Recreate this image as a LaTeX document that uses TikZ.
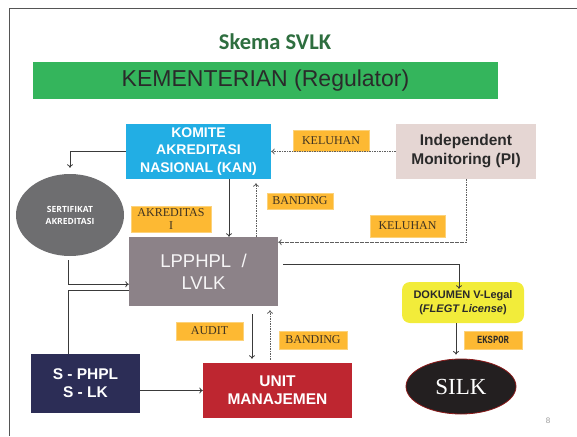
\documentclass[tikz,border=0pt]{standalone}
\usepackage{fontspec}
\setmainfont{Liberation Sans}
\newfontfamily\carl{Carlito}
\newfontfamily\tms{Liberation Serif}
\newfontfamily\osans{Open Sans}
\newfontfamily\cour{Liberation Mono}
\usetikzlibrary{arrows.meta,shapes.geometric,calc}
\definecolor{titlegreen}{HTML}{2E6E3F}
\definecolor{bargreen}{HTML}{34B55C}
\definecolor{kanblue}{HTML}{22AEE4}
\definecolor{impink}{HTML}{E5D6D3}
\definecolor{sertgrey}{HTML}{6E6E70}
\definecolor{lpgrey}{HTML}{8C8288}
\definecolor{dokyellow}{HTML}{F2EC3A}
\definecolor{spnavy}{HTML}{2C2D56}
\definecolor{unitred}{HTML}{BE2630}
\definecolor{silkblack}{HTML}{231F20}
\definecolor{silkred}{HTML}{8B1A1A}
\definecolor{labor}{HTML}{FDB933}
\definecolor{labbd}{HTML}{FCD27A}
\definecolor{labtx}{HTML}{3F3322}
\definecolor{conc}{HTML}{3A3A3A}
\definecolor{dashc}{HTML}{5E5E5E}
\definecolor{framec}{HTML}{555555}
\definecolor{darktext}{HTML}{2A2A2A}
\begin{document}
\begin{tikzpicture}[x=1pt,y=-1pt,
  box/.style={inner sep=0pt, align=center, draw=none},
  lab/.style={fill=labor, draw=labbd, line width=0.6pt, inner sep=0pt, align=center,
    text=labtx, font=\tms\fontsize{12}{12.3}\selectfont},
  conn/.style={draw=conc, line width=0.8pt, -{To[length=3.5pt,width=6pt]}},
  plainconn/.style={draw=conc, line width=0.8pt},
  dashconn/.style={draw=dashc, line width=0.8pt, dash pattern=on 1.6pt off 0.9pt, -{To[length=3.5pt,width=6pt]}}
]
\useasboundingbox (0,0) rectangle (577,436);
% frame
\coordinate (ftr) at (577,8);
\coordinate (ftl) at (9,8);
\coordinate (fbl) at (9,436);
\draw[framec, line width=0.8pt] (ftr) -- (ftl) -- (fbl);

% title and bar
\node[box, text=titlegreen, font=\carl\bfseries\fontsize{22.5}{24}\selectfont] (title) at (275,42) {Skema SVLK};
\node[box, fill=bargreen, minimum width=465pt, minimum height=37pt, text=darktext,
  font=\fontsize{23}{25}\selectfont] (kem) at (265.5,80.5) {KEMENTERIAN (Regulator)};

% main nodes
\node[box, fill=kanblue, minimum width=145pt, minimum height=55pt, text=white,
  font=\bfseries\fontsize{14}{17.5}\selectfont] (kan) at (198.5,151.5) {KOMITE\\AKREDITASI\\NASIONAL (KAN)};
\node[box, fill=impink, minimum width=140pt, minimum height=55pt, text=darktext,
  font=\bfseries\fontsize{15.5}{19}\selectfont] (im) at (466,151.5) {Independent\\Monitoring (PI)};
\node[box, ellipse, fill=sertgrey, minimum width=108pt, minimum height=82pt, text=white,
  font=\osans\bfseries\fontsize{8.5}{12}\selectfont] (sert) at (70,215) {SERTIFIKAT\\AKREDITASI};
\node[box, fill=lpgrey, minimum width=149pt, minimum height=69pt, text=white!92!lpgrey,
  font=\fontsize{18.5}{22}\selectfont] (lp) at (203.5,271.5) {LPPHPL~~/\\LVLK};
\node[box, fill=dokyellow, rounded corners=8pt, minimum width=122pt, minimum height=41pt, text=darktext,
  font=\bfseries\fontsize{11}{14}\selectfont] (dok) at (463,302.5) {DOKUMEN V-Legal\\(\textit{FLEGT License})};
\node[box, ellipse, fill=silkblack, draw=silkred, line width=0.8pt, minimum width=110pt, minimum height=55pt, text=white,
  font=\tms\fontsize{23}{25}\selectfont] (silk) at (461,386.5) {SILK};
\node[box, fill=spnavy, minimum width=109pt, minimum height=59pt, text=white,
  font=\bfseries\fontsize{15.5}{18.3}\selectfont] (sp) at (85.5,383.5) {S - PHPL\\S - LK};
\node[box, fill=unitred, minimum width=149pt, minimum height=55pt, text=white,
  font=\bfseries\fontsize{15.5}{18.3}\selectfont] (unit) at (277.5,390.5) {UNIT\\MANAJEMEN};

% labels
\node[lab, minimum width=80pt, minimum height=26pt] (lakr) at (171,219) {AKREDITAS\\I};
\node[lab, minimum width=66pt, minimum height=16pt] (lban1) at (300,201) {BANDING};
\node[lab, minimum width=76pt, minimum height=21pt] (lkel1) at (331,140.5) {KELUHAN};
\node[lab, minimum width=75pt, minimum height=22pt] (lkel2) at (407.5,226) {KELUHAN};
\node[lab, minimum width=67pt, minimum height=18pt] (laud) at (209.5,331) {AUDIT};
\node[lab, minimum width=68pt, minimum height=18pt] (lban2) at (313,340) {BANDING};
\node[lab, minimum width=58pt, minimum height=18pt, text=darktext!80!labtx,
  font=\cour\bfseries\fontsize{11}{12}\selectfont] (leks) at (493,340) {\scalebox{0.8}[1]{EKSPOR}};

% page number
\node[box, text=gray!80, font=\fontsize{8}{9}\selectfont] (pnum) at (548,421) {8};

% connectors
\draw[conn, shorten >=6pt] (kan.west) -| (sert.north);
\coordinate (kanA) at ($(kan.south)+(30.5,0)$);
\draw[conn] (kanA) -- (kanA |- lp.north);
\coordinate (lpA) at ($(lp.north)+(52.5,0)$);
\draw[dashconn, shorten >=4pt] (lpA) -- (lpA |- kan.south);
\draw[dashconn] (im.west) -- (kan.east);
\coordinate (imA) at (im.south);
\coordinate (imB) at ($(imA)+(0,63)$);
\draw[dashconn] (imA) -- (imB) -- (imB -| lp.east);
\coordinate (lpE) at ($(lp.east)+(5,-7.5)$);
\coordinate (dokA) at ($(dok.north)+(-4,7)$);
\draw[conn] (lpE) -| (dokA);
\coordinate (dokB) at ($(dok.south)+(-7,0)$);
\draw[conn, shorten >=4pt] (dokB) -- (dokB |- silk.north);
\coordinate (sertB) at ($(sert.south)+(-2,4)$);
\coordinate (sertC) at ($(sertB)+(0,24)$);
\draw[conn] (sertB) -- (sertC) -- (sertC -| lp.west);
\coordinate (spA) at ($(sp.north)+(-17.5,0)$);
\coordinate (spB) at ($(spA)+(0,-63)$);
\draw[plainconn] (spA) -- (spB) -- (spB -| lp.west);
\draw[conn] (sp.east |- unit.west) -- (unit.west);
\coordinate (lpS) at ($(lp.south)+(48.5,8)$);
\draw[conn, shorten >=4pt] (lpS) -- (lpS |- unit.north);
\coordinate (unA) at ($(unit.north)+(-7.5,-3)$);
\draw[dashconn, shorten >=4pt] (unA) -- (unA |- lp.south);
\end{tikzpicture}
\end{document}
